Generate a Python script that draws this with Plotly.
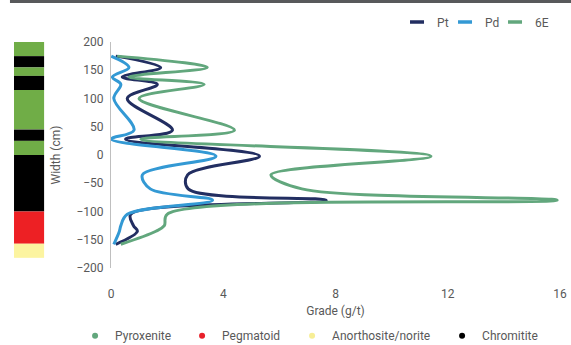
import plotly.graph_objects as go

# ---------------- data ----------------
depth_cm = [175, 155, 138, 125, 100, 44, 28, -2, -35, -60, -80, -105, -125, -135, -158]
pt_grade = [0.17, 1.77, 0.40, 1.65, 0.58, 2.19, 0.52, 5.29, 2.73, 2.75, 7.67, 0.70, 0.80, 0.94, 0.17]
pd_grade = [0.01, 0.64, 0.05, 0.35, 0.10, 0.82, 0.01, 3.74, 1.12, 1.40, 3.62, 0.58, 0.35, 0.30, 0.10]
e6_grade = [0.22, 3.43, 0.64, 3.32, 1.00, 4.40, 1.06, 11.40, 5.70, 6.80, 15.90, 2.00, 1.90, 1.60, 0.35]

series_names = ["Pt", "Pd", "6E"]
series_colors = ["#222E61", "#3399D4", "#62A77D"]

lith_top = [200, 175, 155, 140, 115, 45, 25, 0, -100, -157]
lith_bottom = [175, 155, 140, 115, 45, 25, 0, -100, -157, -182]
lith_type = ["Pyroxenite", "Chromitite", "Pyroxenite", "Chromitite", "Pyroxenite",
             "Chromitite", "Pyroxenite", "Chromitite", "Pegmatoid", "Anorthosite/norite"]

lith_names = ["Pyroxenite", "Pegmatoid", "Anorthosite/norite", "Chromitite"]
lith_legend_colors = ["#62A77D", "#E8202A", "#F7EE95", "#000000"]
lith_strip_colors = {"Pyroxenite": "#70AD47", "Pegmatoid": "#ED2024",
                     "Anorthosite/norite": "#FCF4A0", "Chromitite": "#000000"}

x_ticks = [0, 4, 8, 12, 16]
y_ticks = [-200, -150, -100, -50, 0, 50, 100, 150, 200]

# ---------------- figure ----------------
FONT = "Roboto, Liberation Sans, sans-serif"
TXT = "#595959"

fig = go.Figure()

grades = [pt_grade, pd_grade, e6_grade]
for name, col, g in zip(series_names, series_colors, grades):
    fig.add_trace(go.Scatter(
        x=g, y=depth_cm, mode="lines", name=name,
        line=dict(color=col, width=3, shape="spline", smoothing=1),
        showlegend=False, hoverinfo="x+y+name"))

# legend entries for grade series (short dash symbols)
top_widths = [3, 5, 18]
for name, col, lw in zip(series_names, series_colors, top_widths):
    fig.add_trace(go.Scatter(
        x=[None], y=[None], mode="markers", name=name, legend="legend",
        legendwidth=lw,
        marker=dict(symbol="line-ew", size=10, color=col,
                    line=dict(color=col, width=3.5))))

# legend entries for lithologies (dots)
bottom_widths = [62, 65, 105, 60]
for name, col, lw in zip(lith_names, lith_legend_colors, bottom_widths):
    fig.add_trace(go.Scatter(
        x=[None], y=[None], mode="markers", name=name, legend="legend2",
        legendwidth=lw,
        marker=dict(symbol="circle", size=6, color=col)))

# lithology strip on the left, tied to the depth axis
shapes = []
for top, bot, t in zip(lith_top, lith_bottom, lith_type):
    shapes.append(dict(type="rect", xref="paper", yref="y",
                       x0=-0.216, x1=-0.149, y0=bot, y1=top,
                       fillcolor=lith_strip_colors[t], line=dict(width=0),
                       layer="above"))
# dark rule at the very top
shapes.append(dict(type="rect", xref="paper", yref="paper",
                   x0=-0.225, x1=1.03, y0=1.173, y1=1.19,
                   fillcolor="#58595B", line=dict(width=0)))

fig.update_layout(
    width=571, height=345,
    margin=dict(l=111, r=11, t=42, b=77, autoexpand=False),
    paper_bgcolor="white", plot_bgcolor="white",
    font=dict(family=FONT, size=12, color=TXT),
    shapes=shapes,
    xaxis=dict(range=[0, 16], tickvals=x_ticks, showgrid=False, zeroline=False,
               showline=False, ticks="", ticklabelstandoff=17,
               title=dict(text="Grade (g/t)", standoff=6,
                          font=dict(family=FONT, size=12, color=TXT)),
               tickfont=dict(family=FONT, size=12, color=TXT)),
    yaxis=dict(range=[-200, 200], tickvals=y_ticks, showgrid=False, zeroline=False,
               showline=True, linecolor="#BFBFBF", linewidth=1, ticks="",
               ticklabelstandoff=4,
               title=dict(text="Width (cm)", standoff=13,
                          font=dict(family=FONT, size=12, color=TXT)),
               tickfont=dict(family=FONT, size=12, color=TXT)),
    legend=dict(orientation="h", x=0.637, xanchor="left", y=1.088, yanchor="middle",
                font=dict(family=FONT, size=12, color=TXT),
                bgcolor="rgba(0,0,0,0)", itemwidth=30, tracegroupgap=0),
    legend2=dict(orientation="h", x=-0.08, xanchor="left", y=-0.30, yanchor="middle",
                 font=dict(family=FONT, size=12, color=TXT),
                 bgcolor="rgba(0,0,0,0)", itemwidth=30),
)

fig.write_html("out.html", config={"displayModeBar": False},
               post_script="document.body.style.margin='0';")
